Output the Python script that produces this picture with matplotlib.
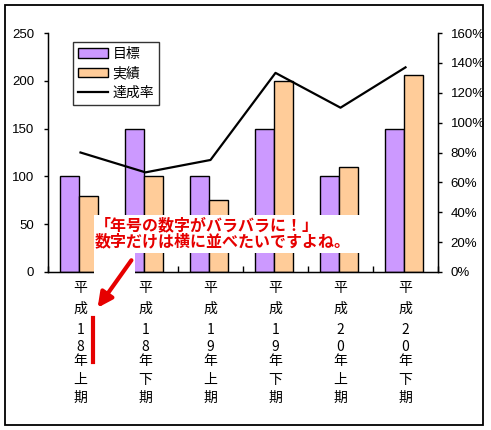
import matplotlib
matplotlib.use("Agg")
import matplotlib.pyplot as plt
from matplotlib.patches import Rectangle, Patch, FancyArrowPatch
from matplotlib.lines import Line2D
import numpy as np

plt.rcParams['font.family'] = ['Noto Sans CJK JP', 'DejaVu Sans']

categories = ["平成18年上期", "平成18年下期", "平成19年上期",
              "平成19年下期", "平成20年上期", "平成20年下期"]
target = [100, 150, 100, 150, 100, 150]
actual = [80, 100, 75, 200, 110, 206]
rate = [0.80, 0.667, 0.75, 1.333, 1.10, 1.37]
series_names = ["目標", "実績", "達成率"]
left_ticks = [0, 50, 100, 150, 200, 250]
right_ticks = [0, 0.2, 0.4, 0.6, 0.8, 1.0, 1.2, 1.4, 1.6]
note_text = "「年号の数字がバラバラに！」\n数字だけは横に並べたいですよね。"

W, H = 491, 430
fig = plt.figure(figsize=(W / 100, H / 100), dpi=100)

def fx(px):
    return px / W

def fy(py):
    return 1 - py / H

# outer border
fig.patches.append(Rectangle((fx(5), fy(425)), fx(478), 420 / H, transform=fig.transFigure,
                             fill=False, edgecolor='black', linewidth=1.3, zorder=0))

ax = fig.add_axes([fx(48), fy(272), fx(390), 239 / H])
x = np.arange(len(categories))
bw = 0.29
ax.bar(x - bw / 2 - 0.02, target, bw, color='#CC99FF', edgecolor='black', linewidth=1.0, zorder=2)
ax.bar(x + bw / 2 - 0.02, actual, bw, color='#FFCC99', edgecolor='black', linewidth=1.0, zorder=2)
ax.set_xlim(-0.5, len(categories) - 0.5)
ax.set_ylim(0, 250)
ax.set_yticks(left_ticks)
ax.set_yticklabels([str(v) for v in left_ticks], fontsize=9.5, family='Liberation Sans')
ax.tick_params(axis='y', direction='out', length=3, width=1, pad=7)
ax.set_xticks(np.arange(len(categories) + 1) - 0.5)
ax.set_xticklabels([])
ax.tick_params(axis='x', direction='in', length=4, width=1)
ax.spines['top'].set_visible(False)
for s in ['left', 'bottom', 'right']:
    ax.spines[s].set_linewidth(1.0)

ax2 = ax.twinx()
ax2.plot(x, rate, color='black', linewidth=1.6, zorder=3)
ax2.set_ylim(0, 1.6)
ax2.set_yticks(right_ticks)
ax2.set_yticklabels([f"{int(round(v * 100))}%" for v in right_ticks], fontsize=9.5,
                    family='Liberation Sans')
ax2.tick_params(axis='y', direction='out', length=3, width=1, pad=6)
ax2.spines['top'].set_visible(False)

# vertical stacked category labels
char_y = [288, 309, 330, 347, 361, 380, 398]
for i, lab in enumerate(categories):
    for ch, yc in zip(lab, char_y):
        ax.annotate(ch, xy=(i, 0), xycoords='data', xytext=(0, -(yc - 272)),
                    textcoords='offset pixels', ha='center', va='center', fontsize=10,
                    annotation_clip=False)

# legend
handles = [Patch(facecolor='#CC99FF', edgecolor='black', linewidth=1.0),
           Patch(facecolor='#FFCC99', edgecolor='black', linewidth=1.0),
           Line2D([0], [0], color='black', linewidth=1.6)]
leg = fig.legend(handles, series_names, loc='upper left', bbox_to_anchor=(fx(73), fy(42)),
                 fontsize=10, frameon=True, fancybox=False, shadow=False,
                 borderpad=0.35, labelspacing=0.4, handlelength=2.2, handletextpad=0.3,
                 borderaxespad=0)
leg.get_frame().set_edgecolor('black')
leg.get_frame().set_linewidth(1.0)

# annotation white boxes
fig.patches.append(Rectangle((fx(94), fy(253)), fx(268), 38 / H, transform=fig.transFigure,
                             facecolor='white', edgecolor='none', zorder=5))
fig.patches.append(Rectangle((fx(94), fy(276)), fx(41), 24 / H, transform=fig.transFigure,
                             facecolor='white', edgecolor='none', zorder=5))
fig.text(fx(95), fy(217), note_text, color='#E60000', fontsize=11.5, ha='left', va='top',
         linespacing=1.05, fontweight='bold', zorder=6)

# red arrow and line
fig.add_artist(FancyArrowPatch(
    (133, H - 258), (96, H - 310), transform=None, arrowstyle='-|>',
    mutation_scale=22, color='#E60000', linewidth=3, zorder=7))
fig.add_artist(Line2D([fx(92.5), fx(92.5)], [fy(318), fy(362)], transform=fig.transFigure,
                      color='#E60000', linewidth=3, zorder=7))

fig.savefig("out.png", dpi=100)
